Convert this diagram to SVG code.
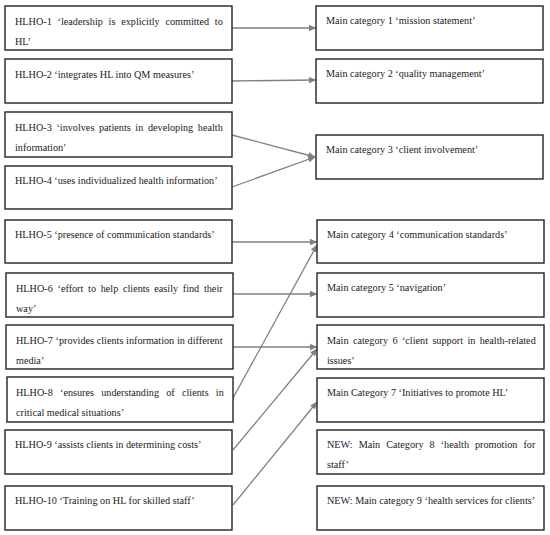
<svg xmlns="http://www.w3.org/2000/svg" width="550" height="535" viewBox="0 0 550 535">
<style>
.box{fill:#fff;stroke:#222;stroke-width:1.4}
text{font-family:"Liberation Serif","Times New Roman",serif;font-size:10.2px;fill:#1a1a1a}
.c{stroke:#808080;stroke-width:1.3;fill:none;marker-end:url(#ah)}
</style>
<defs>
<marker id="ah" markerWidth="8" markerHeight="8" refX="7" refY="4" orient="auto" markerUnits="userSpaceOnUse">
<path d="M0,0.8 L7.5,4 L0,7.2 Z" fill="#808080"/>
</marker>
</defs>
<rect width="550" height="535" fill="#fff"/>
<g id="connectors">
<line class="c" x1="232" y1="28" x2="316" y2="28"/>
<line class="c" x1="232" y1="81" x2="316" y2="80"/>
<line class="c" x1="232" y1="135" x2="315" y2="157"/>
<line class="c" x1="232" y1="187" x2="315" y2="157"/>
<line class="c" x1="232" y1="242" x2="317" y2="242"/>
<line class="c" x1="232" y1="294" x2="317" y2="294"/>
<line class="c" x1="232" y1="347" x2="317" y2="347"/>
<line class="c" x1="233" y1="398" x2="317" y2="245"/>
<line class="c" x1="233" y1="450" x2="317" y2="349"/>
<line class="c" x1="233" y1="505" x2="317" y2="402"/>
</g>
<g id="hlho1"><rect class="box" x="5" y="6" width="227" height="44"/>
<text x="15" y="25" word-spacing="3.24">HLHO-1 ‘leadership is explicitly committed to</text>
<text x="15" y="45">HL’</text></g>
<g id="hlho2"><rect class="box" x="5" y="59" width="227" height="44"/>
<text x="15" y="78">HLHO-2 ‘integrates HL into QM measures’</text></g>
<g id="hlho3"><rect class="box" x="5" y="112" width="227" height="45"/>
<text x="15" y="131" word-spacing="2.11">HLHO-3 ‘involves patients in developing health</text>
<text x="15" y="151">information’</text></g>
<g id="hlho4"><rect class="box" x="5" y="166" width="227" height="43"/>
<text x="15" y="184">HLHO-4 ‘uses individualized health information’</text></g>
<g id="hlho5"><rect class="box" x="5" y="220" width="227" height="43"/>
<text x="15" y="238">HLHO-5 ‘presence of communication standards’</text></g>
<g id="hlho6"><rect class="box" x="6" y="273" width="227" height="44"/>
<text x="16" y="292" word-spacing="2.18">HLHO-6 ‘effort to help clients easily find their</text>
<text x="16" y="312">way’</text></g>
<g id="hlho7"><rect class="box" x="6" y="325" width="227" height="44"/>
<text x="16" y="344" word-spacing="0.2">HLHO-7 ‘provides clients information in different</text>
<text x="16" y="364">media’</text></g>
<g id="hlho8"><rect class="box" x="7" y="377" width="226" height="45"/>
<text x="16" y="396" word-spacing="4.72">HLHO-8 ‘ensures understanding of clients in</text>
<text x="16" y="416">critical medical situations’</text></g>
<g id="hlho9"><rect class="box" x="5" y="430" width="227" height="44"/>
<text x="15" y="448">HLHO-9 ‘assists clients in determining costs’</text></g>
<g id="hlho10"><rect class="box" x="5" y="486" width="227" height="44"/>
<text x="15" y="504">HLHO-10 ‘Training on HL for skilled staff’</text></g>
<g id="mc1"><rect class="box" x="316" y="6" width="227" height="44"/>
<text x="326" y="24">Main category 1 ‘mission statement’</text></g>
<g id="mc2"><rect class="box" x="316" y="59" width="227" height="44"/>
<text x="326" y="77">Main category 2 ‘quality management’</text></g>
<g id="mc3"><rect class="box" x="316" y="135" width="227" height="44"/>
<text x="326" y="153">Main category 3 ‘client involvement’</text></g>
<g id="mc4"><rect class="box" x="317" y="220" width="227" height="43"/>
<text x="327" y="238">Main category 4 ‘communication standards’</text></g>
<g id="mc5"><rect class="box" x="317" y="273" width="227" height="44"/>
<text x="327" y="291">Main category 5 ‘navigation’</text></g>
<g id="mc6"><rect class="box" x="317" y="325" width="227" height="44"/>
<text x="327" y="344" word-spacing="1.88">Main category 6 ‘client support in health-related</text>
<text x="327" y="364">issues’</text></g>
<g id="mc7"><rect class="box" x="317" y="378" width="227" height="44"/>
<text x="327" y="396">Main Category 7 ‘Initiatives to promote HL’</text></g>
<g id="mc8"><rect class="box" x="317" y="430" width="227" height="44"/>
<text x="327" y="448" word-spacing="3.48">NEW: Main Category 8 ‘health promotion for</text>
<text x="327" y="468">staff’</text></g>
<g id="mc9"><rect class="box" x="317" y="486" width="227" height="44"/>
<text x="327" y="504">NEW: Main category 9 ‘health services for clients’</text></g>
</svg>
